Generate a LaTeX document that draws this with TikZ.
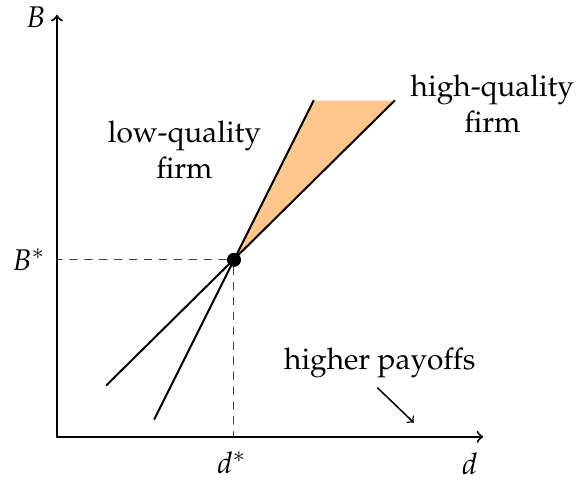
\documentclass[tikz,border=0pt]{standalone}
\usepackage[T1]{fontenc}
\usepackage{mathpazo}
\usepackage{tikz}

\begin{document}
\begin{tikzpicture}[>=to, semithick, line cap=round,
	axis/.style={->, thick},
	guide/.style={dashed, thin, black!75},
	curve/.style={thick},
	dot/.style={circle, fill, inner sep=0pt, minimum size=5.5pt},
	lab/.style={align=center, font=\fontsize{12}{14.5}\selectfont}]
		\useasboundingbox (-0.805,-0.62) rectangle (7.43,6.17);
		\coordinate (O) at (0,0);
		\coordinate (X) at (6.02,0);
		\coordinate (Y) at (0,5.96);
		\node[dot] (P) at (2.5,2.5) {};
		\coordinate (Pd) at (2.5,0);
		\coordinate (PB) at (0,2.5);

		\coordinate (L0) at (1.375,0.25);
		\coordinate (L1) at (3.625,4.75);
		\coordinate (H0) at (0.7,0.73);
		\coordinate (H1) at (4.77,4.75);

		\fill[orange!45] (P.center) -- (L1) -- (H1) -- cycle;
		\draw[curve] (L0) -- (L1);
		\draw[curve] (H0) -- (H1);

		\draw[guide] (P) -- (Pd);
		\draw[guide] (P) -- (PB);
		\draw[axis] (O) -- (X);
		\draw[axis] (O) -- (Y);
		\node[dot] at (P) {};

		\node[lab] (Blab) at (-0.3,5.92) {$B$};
		\node[lab] (dlab) at (5.83,-0.38) {$d$};
		\node[lab] (Bstar) at (-0.4,2.5) {$B^*$};
		\node[lab] (dstar) at (2.47,-0.37) {$d^*$};

		\node[lab] (low) at (1.8,4.06) {low-quality\\firm};
		\node[lab] (high) at (6.15,4.7) {high-quality\\firm};
		\node[lab] (pay) at (4.56,1.04) {higher payoffs};
		\coordinate (A0) at (4.53,0.69);
		\coordinate (A1) at (5.04,0.2);
		\draw[->] (A0) -- (A1);

		\end{tikzpicture}
\end{document}
